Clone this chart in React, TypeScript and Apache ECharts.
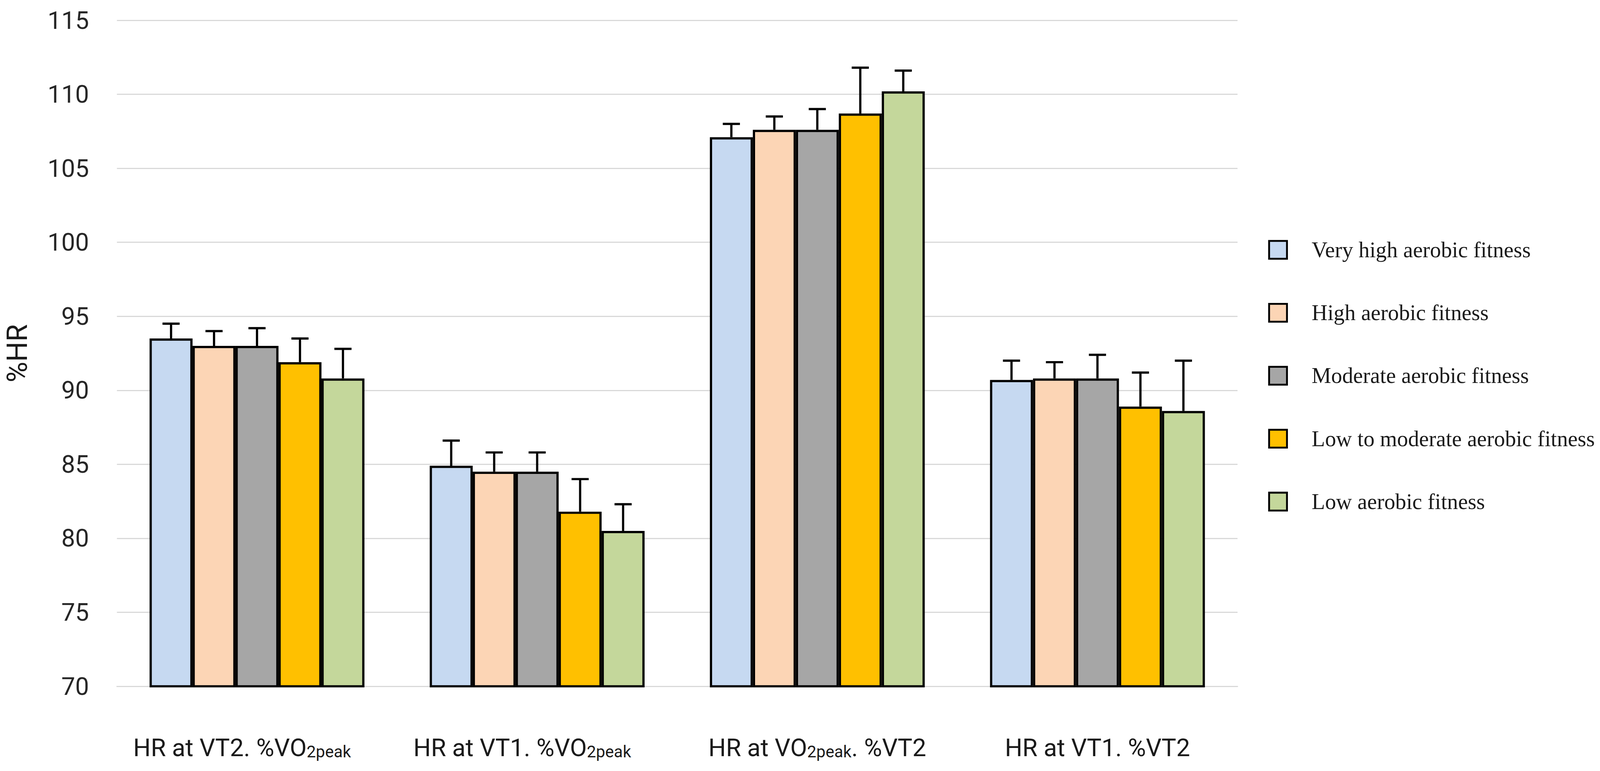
import React, { useEffect, useRef } from "react";
import * as echarts from "echarts";

const categories = [
  "HR at VT2. %VO2peak",
  "HR at VT1. %VO2peak",
  "HR at VO2peak. %VT2",
  "HR at VT1. %VT2",
];

const groupNames = [
  "Very high aerobic fitness",
  "High aerobic fitness",
  "Moderate aerobic fitness",
  "Low to moderate aerobic fitness",
  "Low aerobic fitness",
];

const groupColors = ["#C6D9F1", "#FCD5B5", "#A6A6A6", "#FFC000", "#C4D79B"];

const veryHighMean = [93.5, 84.9, 107.1, 90.7];
const highMean = [93.0, 84.5, 107.6, 90.8];
const moderateMean = [93.0, 84.5, 107.6, 90.8];
const lowModMean = [91.9, 81.8, 108.7, 88.9];
const lowMean = [90.8, 80.5, 110.2, 88.6];

const veryHighSd = [1.0, 1.7, 0.9, 1.3];
const highSd = [1.0, 1.3, 0.9, 1.1];
const moderateSd = [1.2, 1.3, 1.4, 1.6];
const lowModSd = [1.6, 2.2, 3.1, 2.3];
const lowSd = [2.0, 1.8, 1.4, 3.4];

const yTicks = { min: 70, max: 115, interval: 5 };

const means = [veryHighMean, highMean, moderateMean, lowModMean, lowMean];
const sds = [veryHighSd, highSd, moderateSd, lowModSd, lowSd];

const CAT_GAP = 0.233;
const REF_W = 4295;
const REF_H = 1975;

function formatCategory(v: string): string {
  const i = v.indexOf("2peak");
  if (i < 0) return "{n|" + v + "}";
  const before = v.slice(0, i);
  const after = v.slice(i + 5);
  if (after.length === 0) return "{n|" + before + "}{se|2peak}";
  return "{n|" + before + "}{s|2peak}{n|" + after + "}";
}

export default function App() {
  const ref = useRef<HTMLDivElement>(null);
  useEffect(() => {
    const el = ref.current;
    if (!el) return;
    const W = el.clientWidth || REF_W;
    const H = el.clientHeight || REF_H;
    const sx = W / REF_W;
    const sy = H / REF_H;
    const s = Math.min(sx, sy);
    const X = (v: number) => v * sx;
    const Y = (v: number) => v * sy;
    const F = (v: number) => v * s;

    const chart = echarts.init(el, undefined, { renderer: "svg", width: W, height: H });

    const barSeries = groupNames.map((name, i) => ({
      name,
      type: "bar",
      data: means[i],
      barGap: "0%",
      barCategoryGap: CAT_GAP * 100 + "%",
      itemStyle: { color: groupColors[i], borderColor: "#000", borderWidth: F(6) },
      z: 2,
    }));

    const errSeries = groupNames.map((name, i) => ({
      name: "sd-" + i,
      type: "custom",
      z: 3,
      data: means[i].map((m, k) => [k, m, m + sds[i][k]]),
      encode: { x: 0, y: [1, 2] },
      renderItem: (params: any, api: any) => {
        const k = api.value(0);
        const m = api.value(1);
        const top = api.value(2);
        const catW = api.size([1, 0])[0];
        const bw = (catW * (1 - CAT_GAP)) / 5;
        const p0 = api.coord([k, m]);
        const p1 = api.coord([k, top]);
        const cx = p0[0] + (i - 2) * bw;
        const style = { stroke: "#000", lineWidth: F(6) };
        const half = X(23);
        return {
          type: "group",
          children: [
            { type: "line", shape: { x1: cx, y1: p0[1], x2: cx, y2: p1[1] }, style },
            { type: "line", shape: { x1: cx - half, y1: p1[1], x2: cx + half, y2: p1[1] }, style },
          ],
        };
      },
    }));

    const option = {
      animation: false,
      backgroundColor: "#fff",
      grid: { left: X(312), right: X(973), top: Y(52), bottom: Y(217) },
      legend: {
        data: groupNames,
        orient: "vertical",
        left: X(3399),
        top: Y(607),
        itemWidth: F(48),
        itemHeight: F(48),
        itemGap: Y(151) - F(48),
        icon: "rect",
        itemStyle: { borderColor: "#000", borderWidth: F(5) },
        textStyle: {
          fontFamily: "'Liberation Serif', serif",
          fontSize: F(59),
          color: "#1a1a1a",
          lineHeight: F(48),
          padding: [0, 0, 0, X(61)],
        },
      },
      xAxis: {
        type: "category",
        data: categories,
        axisLine: { show: true, lineStyle: { color: "#D9D9D9", width: F(3) } },
        axisTick: { show: false },
        axisLabel: {
          interval: 0,
          margin: Y(122),
          formatter: formatCategory,
          rich: {
            n: { fontFamily: "Roboto", fontSize: F(66), color: "#1a1a1a", verticalAlign: "bottom", lineHeight: F(70) },
            s: { fontFamily: "Roboto", fontSize: F(44), color: "#1a1a1a", verticalAlign: "bottom", lineHeight: F(70) },
            se: { fontFamily: "Roboto", fontSize: F(44), color: "#1a1a1a", verticalAlign: "bottom", lineHeight: F(70), padding: [0, X(80), 0, 0] },
          },
        },
      },
      yAxis: {
        type: "value",
        min: yTicks.min,
        max: yTicks.max,
        interval: yTicks.interval,
        name: "%HR",
        nameLocation: "middle",
        nameRotate: 90,
        nameGap: X(230),
        nameTextStyle: { fontFamily: "Roboto", fontSize: F(76), color: "#1a1a1a" },
        axisLine: { show: false },
        axisTick: { show: false },
        axisLabel: { fontFamily: "Roboto", fontSize: F(66), color: "#262626", margin: X(75) },
        splitLine: { lineStyle: { color: "#D9D9D9", width: F(3) } },
      },
      series: [...barSeries, ...errSeries],
    };

    chart.setOption(option as any);
    return () => chart.dispose();
  }, []);

  return (
    <div
      ref={ref}
      style={{ position: "fixed", left: 0, top: 0, width: "100vw", height: "100vh", overflow: "hidden" }}
    />
  );
}
